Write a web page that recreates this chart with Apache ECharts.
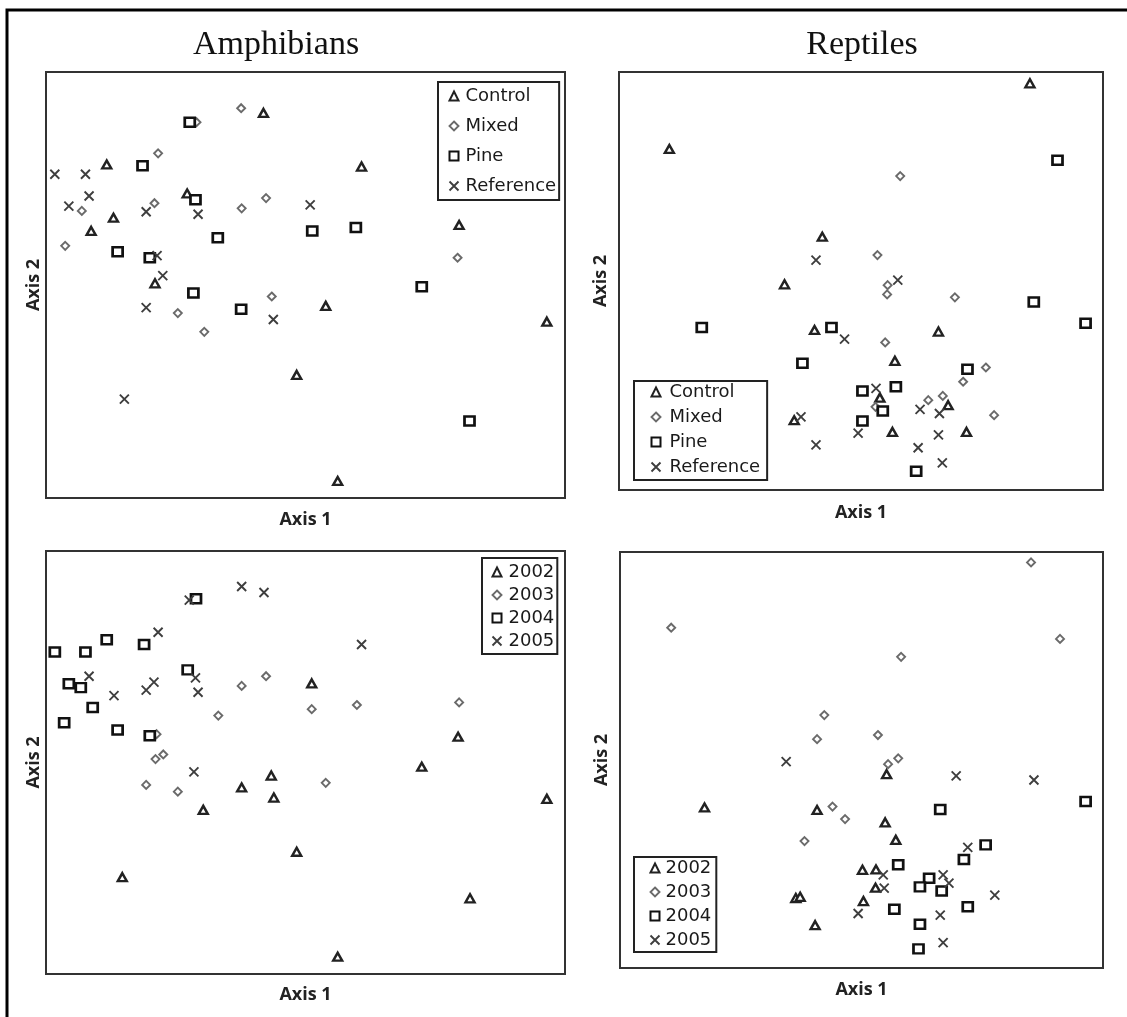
<!DOCTYPE html>
<html>
<head>
<meta charset="utf-8">
<title>Amphibians and Reptiles ordination</title>
<script src="https://cdn.jsdelivr.net/npm/echarts@6/dist/echarts.min.js"></script>
<style>
  html, body { margin: 0; padding: 0; background: #fff; }
  #chart { width: 1127px; height: 1017px; }
</style>
</head>
<body>
<div id="chart"></div>
<script>
// Ordination scores (Axis 1, Axis 2), scaled 0-100 within each panel.

// Amphibians by treatment
const amphControl = [[41.9,90.4],[11.7,78.3],[27.2,71.5],[13.0,65.8],[8.7,62.7],[21.0,50.4],[48.3,28.9],[60.8,77.8],[79.6,64.1],[53.9,45.1],[96.5,41.4],[56.2,4.0]];
const amphMixed = [[37.6,91.5],[29.0,88.2],[21.6,80.9],[6.9,67.4],[20.9,69.2],[37.7,68.0],[42.4,70.4],[3.7,59.2],[43.5,47.3],[25.4,43.4],[30.5,39.0],[79.3,56.4]];
const amphPine = [[27.7,88.2],[18.6,78.0],[28.8,70.0],[33.1,61.1],[13.8,57.8],[20.0,56.4],[28.4,48.1],[37.6,44.3],[51.3,62.7],[59.7,63.5],[72.4,49.6],[81.6,18.1]];
const amphReference = [[1.7,76.0],[7.6,76.0],[8.3,70.9],[4.4,68.5],[19.3,67.2],[29.3,66.6],[21.4,56.9],[22.5,52.2],[19.3,44.7],[43.8,41.9],[15.1,23.2],[50.9,68.8]];

// Amphibians by year
const amph2002 = [[51.2,68.7],[43.4,46.9],[37.7,44.1],[43.9,41.7],[30.3,38.8],[48.3,28.9],[14.7,22.9],[79.4,56.1],[72.4,49.0],[96.5,41.4],[81.7,17.9],[56.2,4.1]];
const amph2003 = [[37.7,68.1],[42.4,70.4],[51.2,62.6],[33.2,61.1],[21.3,56.7],[22.6,51.9],[21.1,50.8],[19.3,44.7],[25.4,43.1],[59.9,63.6],[79.6,64.2],[53.9,45.2]];
const amph2004 = [[28.9,88.7],[11.7,79.0],[18.9,77.9],[1.7,76.1],[7.6,76.1],[27.3,71.9],[4.4,68.6],[6.7,67.7],[9.0,63.0],[3.5,59.4],[13.8,57.7],[20.0,56.3]];
const amph2005 = [[37.7,91.6],[42.0,90.2],[27.6,88.4],[21.6,80.8],[28.8,70.0],[8.3,70.4],[20.8,69.0],[19.3,67.1],[29.3,66.6],[13.1,65.8],[28.5,47.8],[60.8,77.9]];

// Reptiles by treatment
const reptControl = [[10.4,81.6],[42.0,60.6],[34.2,49.2],[40.4,38.3],[36.2,16.7],[84.9,97.3],[66.0,37.9],[57.0,30.9],[53.9,22.1],[68.0,20.3],[56.5,13.9],[71.8,13.9]];
const reptMixed = [[58.1,75.1],[53.4,56.2],[55.5,49.0],[55.4,46.8],[69.4,46.1],[55.0,35.3],[75.8,29.3],[71.1,25.9],[53.0,19.9],[63.9,21.5],[66.9,22.5],[77.5,17.9]];
const reptPine = [[17.1,38.9],[43.9,38.9],[37.9,30.3],[90.6,78.9],[85.7,45.0],[96.4,39.9],[72.0,28.9],[50.3,23.7],[57.2,24.7],[54.5,18.9],[50.3,16.5],[61.4,4.5]];
const reptReference = [[40.7,55.0],[46.6,36.1],[37.6,17.5],[40.7,10.8],[57.6,50.2],[53.1,24.3],[62.2,19.3],[66.2,18.3],[49.4,13.6],[66.0,13.2],[61.8,10.1],[66.8,6.5]];

// Reptiles by year
const rept2002 = [[17.5,38.6],[40.8,38.0],[36.4,16.8],[37.3,17.1],[40.4,10.3],[55.2,46.6],[54.9,35.0],[57.1,30.8],[50.2,23.6],[53.0,23.7],[52.9,19.3],[50.4,16.1]];
const rept2003 = [[10.6,81.8],[42.3,60.8],[40.8,55.0],[44.0,38.8],[46.6,35.8],[38.2,30.5],[85.1,97.5],[91.1,79.1],[58.2,74.8],[53.4,56.0],[57.6,50.4],[55.5,49.0]];
const rept2004 = [[96.4,40.0],[66.3,38.1],[75.7,29.6],[71.2,26.1],[57.6,24.8],[64.0,21.6],[62.1,19.5],[66.6,18.5],[56.8,14.1],[72.0,14.7],[62.1,10.5],[61.8,4.6]];
const rept2005 = [[34.4,49.6],[69.6,46.2],[85.7,45.2],[72.0,29.0],[54.5,22.4],[66.9,22.4],[68.1,20.4],[54.7,19.2],[77.6,17.5],[49.3,13.1],[66.3,12.7],[66.9,6.1]];

const treatmentNames = ['Control', 'Mixed', 'Pine', 'Reference'];
const yearNames = ['2002', '2003', '2004', '2005'];
const panelTitles = ['Amphibians', 'Reptiles'];
const xAxisName = 'Axis 1';
const yAxisName = 'Axis 2';

// Marker styles, one per group position (triangle, diamond, square, cross)
const markers = [
  { symbol: 'triangle', size: [9, 8], style: { color: '#fff', borderColor: '#222', borderWidth: 2.4 } },
  { symbol: 'diamond', size: [8, 8], style: { color: '#fff', borderColor: '#6a6a6a', borderWidth: 1.9 } },
  { symbol: 'rect', size: [10, 9], style: { color: '#fff', borderColor: '#111', borderWidth: 2.6 } },
  { symbol: 'path://M0,0L10,10M10,0L0,10', size: [9, 9], style: { color: 'none', borderColor: '#3e3e3e', borderWidth: 1.9 } }
];

const panels = [
  { grid: { left: 46, top: 72, width: 519, height: 426 }, names: treatmentNames,
    data: [amphControl, amphMixed, amphPine, amphReference], xGap: 13, yGap: 3,
    legend: { left: 438, top: 82, padding: [5, 3, 5, 9], itemGap: 12, lineHeight: 18, textPad: 2 } },
  { grid: { left: 619, top: 72, width: 484, height: 418 }, names: treatmentNames,
    data: [reptControl, reptMixed, reptPine, reptReference], xGap: 14, yGap: 9,
    legend: { left: 634, top: 381, padding: [2, 7, 4, 15], itemGap: 7, lineHeight: 18, textPad: 4 } },
  { grid: { left: 46, top: 551, width: 519, height: 423 }, names: yearNames,
    data: [amph2002, amph2003, amph2004, amph2005], xGap: 12, yGap: 3,
    legend: { left: 482, top: 558, padding: [5, 3, 4, 8], itemGap: 5, lineHeight: 18, textPad: 2 } },
  { grid: { left: 620, top: 552, width: 483, height: 416 }, names: yearNames,
    data: [rept2002, rept2003, rept2004, rept2005], xGap: 13, yGap: 9,
    legend: { left: 634, top: 857, padding: [2, 5, 3, 14], itemGap: 6, lineHeight: 18, textPad: 1 } }
];

const axisNameStyle = { fontFamily: '"Open Sans", sans-serif', fontWeight: 'bold', fontSize: 18, color: '#222' };
const legendFont = '"DejaVu Sans", sans-serif';
const titleFont = { fontFamily: '"Liberation Serif", serif', fontSize: 34, fill: '#111', align: 'center', verticalAlign: 'middle' };

const option = {
  animation: false,
  backgroundColor: '#fff',
  grid: [], xAxis: [], yAxis: [], series: [], legend: [],
  graphic: [
    { type: 'rect', shape: { x: 7, y: 10, width: 1400, height: 1300 },
      style: { fill: 'none', stroke: '#000', lineWidth: 3 }, silent: true },
    { type: 'text', x: 276, y: 45, silent: true, style: Object.assign({ text: panelTitles[0] }, titleFont) },
    { type: 'text', x: 862, y: 45, silent: true, style: Object.assign({ text: panelTitles[1] }, titleFont) }
  ]
};

panels.forEach((p, i) => {
  option.grid.push(Object.assign({ show: true, borderColor: '#333', borderWidth: 2, backgroundColor: '#fff' }, p.grid));
  option.xAxis.push({
    gridIndex: i, type: 'value', min: 0, max: 100,
    name: xAxisName, nameLocation: 'middle', nameGap: p.xGap, nameTextStyle: axisNameStyle,
    axisLine: { show: false }, axisTick: { show: false }, axisLabel: { show: false }, splitLine: { show: false }
  });
  option.yAxis.push({
    gridIndex: i, type: 'value', min: 0, max: 100,
    name: yAxisName, nameLocation: 'middle', nameGap: p.yGap, nameTextStyle: axisNameStyle,
    axisLine: { show: false }, axisTick: { show: false }, axisLabel: { show: false }, splitLine: { show: false }
  });
  p.names.forEach((name, k) => {
    const m = markers[k];
    option.series.push({
      type: 'scatter', name: name, xAxisIndex: i, yAxisIndex: i,
      data: p.data[k], symbol: m.symbol, symbolSize: m.size,
      itemStyle: Object.assign({ opacity: 1 }, m.style),
      emphasis: { disabled: true }, silent: true, z: 3 + k
    });
  });
  const L = p.legend;
  option.legend.push({
    orient: 'vertical', left: L.left, top: L.top, padding: L.padding, itemGap: L.itemGap,
    itemWidth: 9, itemHeight: 9, selectedMode: false,
    borderColor: '#222', borderWidth: 2, backgroundColor: '#fff',
    textStyle: { fontFamily: legendFont, fontSize: 18, color: '#1a1a1a', lineHeight: L.lineHeight,
                 padding: [0, 0, 0, L.textPad] },
    data: p.names.map((name, k) => ({
      name: name, icon: markers[k].symbol,
      itemStyle: Object.assign({}, markers[k].style, { borderWidth: Math.min(markers[k].style.borderWidth, 2) })
    }))
  });
});

const chart = echarts.init(document.getElementById('chart'), null, { renderer: 'canvas' });
chart.setOption(option);
</script>
</body>
</html>
